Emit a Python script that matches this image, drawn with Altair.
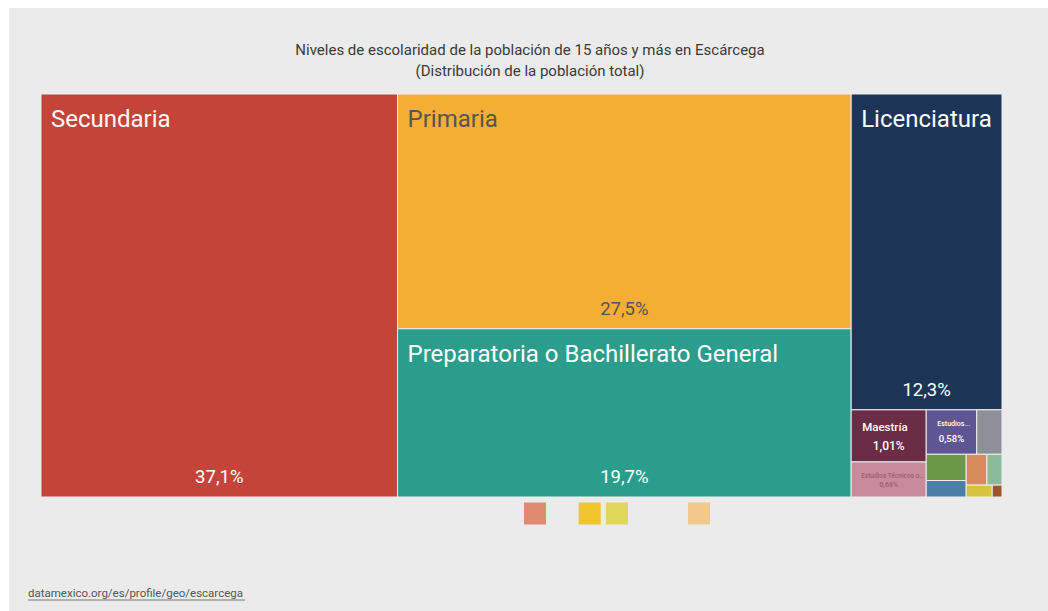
import altair as alt
import pandas as pd

# ---------------- data ----------------
categories = [
    "Secundaria", "Primaria", "Preparatoria o Bachillerato General", "Licenciatura",
    "Maestría", "Estudios Técnicos o Comerciales con Secundaria Terminada",
    "Estudios Técnicos o Comerciales con Preparatoria Terminada",
    "Normal de Licenciatura", "Bachillerato Tecnológico", "Especialidad",
    "Estudios Técnicos o Comerciales con Primaria Terminada", "Doctorado",
    "Preescolar", "Normal con Primaria o Secundaria Terminada",
]
values = [37.1, 27.5, 19.7, 12.3, 1.01, 0.68, 0.58, 0.29, 0.27, 0.17, 0.165, 0.12, 0.08, 0.03]
colors = ["#c4443a", "#f4ae31", "#2a9d8c", "#1c3557", "#6b2c45", "#c98a9c", "#5e5693",
          "#8f8f98", "#6a9a48", "#4a80a8", "#d88c5c", "#8bbb9c", "#d8c340", "#a0522d"]
shown_labels = ["Secundaria", "Primaria", "Preparatoria o Bachillerato General", "Licenciatura",
                "Maestría", "Estudios Técnicos o...", "Estudios...", "", "", "", "", "", "", ""]

legend_slots = [0, 2, 3, 6]
legend_colors = ["#e08a72", "#f0c42a", "#e0d658", "#f2c98c"]

title_lines = ["Niveles de escolaridad de la población de 15 años y más en Escárcega",
               "(Distribución de la población total)"]
source_text = "datamexico.org/es/profile/geo/escarcega"

# ---------------- layout (d3 squarify) ----------------
W, H = 961, 403
PHI = (1 + 5 ** 0.5) / 2


def squarify(vals, x0, y0, x1, y1, ratio=PHI):
    n = len(vals)
    rects = [None] * n
    i0 = i1 = 0
    value = sum(vals)
    while i0 < n:
        dx, dy = x1 - x0, y1 - y0
        s = vals[i1]
        i1 += 1
        mn = mx = s
        alpha = max(dy / dx, dx / dy) / (value * ratio)
        beta = s * s * alpha
        min_ratio = max(mx / beta, beta / mn)
        while i1 < n:
            nv = vals[i1]
            s += nv
            mn, mx = min(mn, nv), max(mx, nv)
            beta = s * s * alpha
            new_ratio = max(mx / beta, beta / mn)
            if new_ratio > min_ratio:
                s -= nv
                break
            min_ratio = new_ratio
            i1 += 1
        row = range(i0, i1)
        if dx < dy:
            ny = y0 + dy * s / value
            cx = x0
            for i in row:
                w = dx * vals[i] / s
                rects[i] = (cx, y0, cx + w, ny)
                cx += w
            y0 = ny
        else:
            nx = x0 + dx * s / value
            cy = y0
            for i in row:
                h = dy * vals[i] / s
                rects[i] = (x0, cy, nx, cy + h)
                cy += h
            x0 = nx
        value -= s
        i0 = i1
    return rects


rects = squarify(values, 0, 0, W, H)


def fmt(v):
    s = f"{v:.1f}" if v >= 10 else f"{v:.2f}"
    return s.replace(".", ",") + "%"


rows = []
for i, (c, v, col, lab) in enumerate(zip(categories, values, colors, shown_labels)):
    x0, y0, x1, y1 = rects[i]
    rows.append(dict(cat=c, val=v, color=col, label=lab, pct=fmt(v),
                     x0=x0, y0=y0, x1=x1, y1=y1, xc=(x0 + x1) / 2))
df = pd.DataFrame(rows)

# text styling tiers (by rank)
big = df.iloc[:4].copy()
big["tcolor"] = ["#ffffff", "#555555", "#ffffff", "#ffffff"]
big["nx"] = big.x0 + 10
big["ny"] = big.y0 + 33
big["py"] = big.y1 - 14

small = df.iloc[4:7].copy()
small["tcolor"] = ["#ffffff", "#9b5f70", "#ffffff"]
small["nsize"] = [11.5, 6.5, 7]
small["psize"] = [12, 7, 9.5]
small["nx"] = small.x0 + [11, 10, 11]
small["ny"] = small.y0 + [21, 16, 16]
small["py"] = small.y0 + [40, 25, 32]

FONT = "Roboto"
xs = alt.Scale(domain=[0, W], nice=False, zero=False)
ys = alt.Scale(domain=[0, H], nice=False, zero=False, reverse=True)

bg = alt.Chart(pd.DataFrame({"a": [0]})).mark_rect(color="#ebebeb").encode(
    x=alt.value(-32), x2=alt.value(1007), y=alt.value(-86), y2=alt.value(517))

tiles = alt.Chart(df).mark_rect(stroke="#eeeeee", strokeWidth=1).encode(
    x=alt.X("x0:Q", scale=xs, axis=None), x2="x1:Q",
    y=alt.Y("y0:Q", scale=ys, axis=None), y2="y1:Q",
    color=alt.Color("color:N", scale=None),
    tooltip=["cat:N", "pct:N"])

big_names = alt.Chart(big).mark_text(align="left", baseline="alphabetic", font=FONT,
                                     fontSize=24).encode(
    x=alt.X("nx:Q", scale=xs, axis=None), y=alt.Y("ny:Q", scale=ys, axis=None),
    text="label:N", color=alt.Color("tcolor:N", scale=None))

big_pcts = alt.Chart(big).mark_text(align="center", baseline="alphabetic", font=FONT,
                                    fontSize=18.5).encode(
    x=alt.X("xc:Q", scale=xs, axis=None), y=alt.Y("py:Q", scale=ys, axis=None),
    text="pct:N", color=alt.Color("tcolor:N", scale=None))

small_names = alt.Chart(small).mark_text(align="left", baseline="alphabetic", font=FONT,
                                         fontWeight=500).encode(
    x=alt.X("nx:Q", scale=xs, axis=None), y=alt.Y("ny:Q", scale=ys, axis=None),
    text="label:N", color=alt.Color("tcolor:N", scale=None),
    size=alt.Size("nsize:Q", scale=None))

small_pcts = alt.Chart(small).mark_text(align="center", baseline="alphabetic", font=FONT,
                                        fontWeight=500).encode(
    x=alt.X("xc:Q", scale=xs, axis=None), y=alt.Y("py:Q", scale=ys, axis=None),
    text="pct:N", color=alt.Color("tcolor:N", scale=None),
    size=alt.Size("psize:Q", scale=None))

leg = alt.Chart(pd.DataFrame({"slot": legend_slots, "c": legend_colors})).mark_square(
    size=484, opacity=1).encode(
    x=alt.X("slot:Q", scale=alt.Scale(domain=[0, 6], range=[494, 658]), axis=None),
    y=alt.value(419.5),
    color=alt.Color("c:N", scale=None))

title_df = pd.DataFrame({"t": title_lines, "line": [0, 1]})
title = alt.Chart(title_df).mark_text(align="center", baseline="middle", font=FONT,
                                      fontSize=15, color="#3a3a3a").encode(
    x=alt.value(489),
    y=alt.Y("line:Q", scale=alt.Scale(domain=[0, 1], range=[-44, -23]), axis=None),
    text="t:N")

source = alt.Chart(pd.DataFrame({"t": [source_text]})).mark_text(
    align="left", baseline="alphabetic", font=FONT, fontSize=11.5, color="#555555").encode(
    x=alt.value(-13), y=alt.value(503), text="t:N")
underline = alt.Chart(pd.DataFrame({"a": [0]})).mark_rule(color="#777777", strokeWidth=1).encode(
    x=alt.value(-13), x2=alt.value(204), y=alt.value(506))

chart = alt.layer(bg, tiles, big_names, big_pcts, small_names, small_pcts, leg,
                  title, source, underline).resolve_scale(
    x="independent", y="independent").properties(
    width=W, height=H,
    autosize=alt.AutoSizeParams(type="none"),
    padding={"left": 41, "top": 94, "right": 46, "bottom": 114},
    background="#ffffff",
).configure_view(stroke=None)

chart.save("out.html", embed_options={"renderer": "svg", "actions": False})
